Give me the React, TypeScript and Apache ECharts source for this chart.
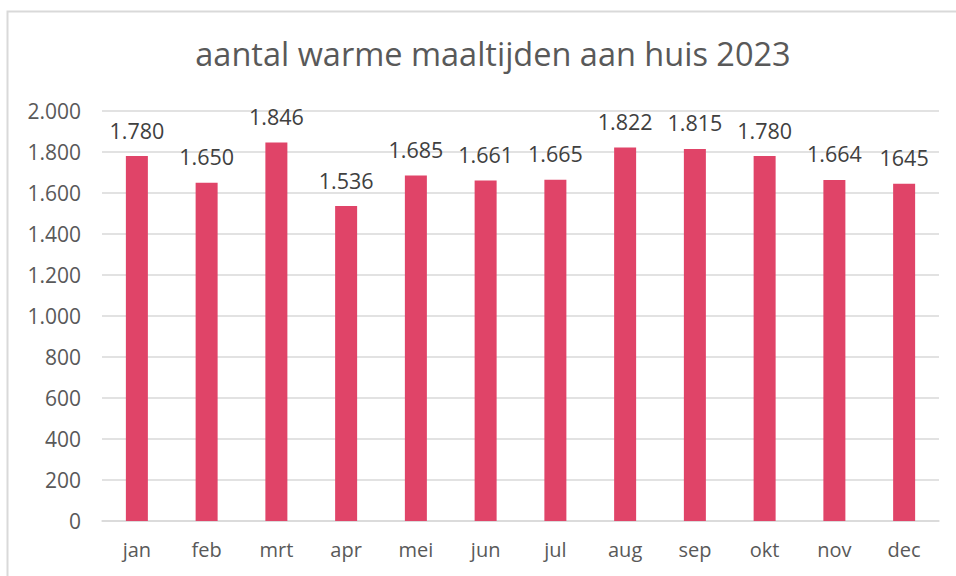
import React, { useEffect, useRef } from "react";
import * as echarts from "echarts";

const months = ["jan", "feb", "mrt", "apr", "mei", "jun", "jul", "aug", "sep", "okt", "nov", "dec"];
const values = [1780, 1650, 1846, 1536, 1685, 1661, 1665, 1822, 1815, 1780, 1664, 1645];
const valueLabels = ["1.780", "1.650", "1.846", "1.536", "1.685", "1.661", "1.665", "1.822", "1.815", "1.780", "1.664", "1645"];
const titleText = "aantal warme maaltijden aan huis 2023";

const FONT = "'Open Sans', Lato, sans-serif";

export default function App() {
  const ref = useRef<HTMLDivElement>(null);
  useEffect(() => {
    if (!ref.current) return;
    const chart = echarts.init(ref.current, null, { renderer: "svg" });
    chart.setOption({
      animation: false,
      backgroundColor: "#ffffff",
      title: {
        text: titleText,
        left: 488,
        textAlign: "center",
        top: 32,
        textStyle: { fontFamily: FONT, fontSize: 32.5, fontWeight: "normal", color: "#595959" },
      },
      graphic: [
        {
          type: "rect",
          shape: { x: 7.5, y: 11.5, width: 1000, height: 1000 },
          style: { fill: "none", stroke: "#d9d9d9", lineWidth: 2 },
          silent: true,
        },
      ],
      grid: { left: 102, right: 17, top: 111, bottom: 55, containLabel: false },
      xAxis: {
        type: "category",
        data: months,
        axisLine: { lineStyle: { color: "#d9d9d9", width: 1.5 } },
        axisTick: { show: false },
        axisLabel: { color: "#595959", fontFamily: FONT, fontSize: 20, margin: 18 },
      },
      yAxis: {
        type: "value",
        min: 0,
        max: 2000,
        interval: 200,
        axisLine: { show: false },
        axisTick: { show: false },
        splitLine: { lineStyle: { color: "#d9d9d9", width: 1.5 } },
        axisLabel: {
          color: "#595959",
          fontFamily: FONT,
          fontSize: 21,
          margin: 21,
          formatter: (v: number) => (v >= 1000 ? Math.floor(v / 1000) + "." + String(v % 1000).padStart(3, "0") : String(v)),
        },
      },
      series: [
        {
          type: "bar",
          data: values,
          barWidth: 22,
          itemStyle: { color: "#E04468" },
          label: {
            show: true,
            position: "top",
            distance: 15,
            color: "#404040",
            fontFamily: FONT,
            fontSize: 21.5,
            formatter: (p: any) => valueLabels[p.dataIndex],
          },
        },
      ],
    });
    return () => chart.dispose();
  }, []);
  return <div ref={ref} style={{ position: "absolute", left: 0, top: 0, width: 956, height: 576 }} />;
}
